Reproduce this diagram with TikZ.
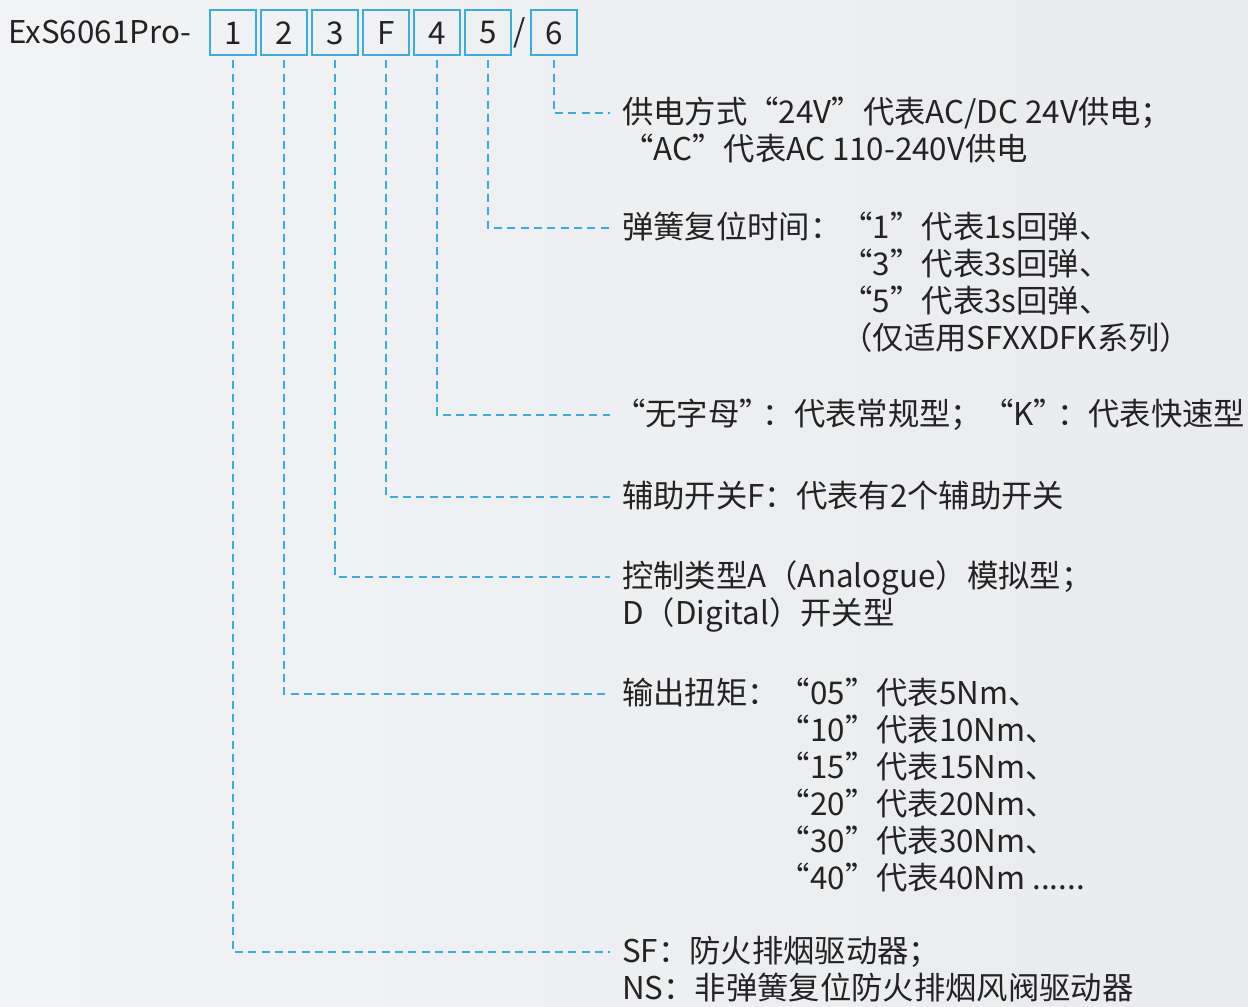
\documentclass[tikz,border=0pt]{standalone}
\usepackage{fontspec}
\setmainfont{Noto Sans CJK SC}
\definecolor{bgl}{RGB}{241,243,245}
\definecolor{bgr}{RGB}{233,235,238}
\definecolor{lblue}{RGB}{58,172,222}
\definecolor{ink}{RGB}{35,35,35}
\tikzset{
  boxn/.style={draw=lblue, line width=1.5pt, minimum width=34.5pt, minimum height=33.75pt, inner sep=0pt, text=ink, font=\fontsize{23.5}{27.75}\selectfont},
  lbl/.style={anchor=base west, inner sep=0pt, align=left, text=ink, font=\fontsize{23.5}{27.75}\selectfont},
  dline/.style={draw=lblue, line width=1.1pt, dash pattern=on 6pt off 4pt}
}
\begin{document}
\begin{tikzpicture}[x=0.75pt,y=-0.75pt]
\useasboundingbox (0,0) rectangle (1248,1006);
\shade[left color=bgl, right color=bgr] (0,0) rectangle (1248,1006);
\node[lbl] (title) at (8,44) {ExS6061Pro-};
\node[boxn] (b1) at (233,33) {1};
\node[boxn] (b2) at (284,33) {2};
\node[boxn] (b3) at (335,33) {3};
\node[boxn] (bF) at (386,33) {F};
\node[boxn] (b4) at (437,33) {4};
\node[boxn] (b5) at (488,33) {5};
\node[lbl, anchor=center] (slash) at (520,33) {/};
\node[boxn] (b6) at (554,33) {6};

% anchors are at the baseline of the LAST line
\node[lbl] (l6) at (622,123+37) {供电方式“24V”代表AC/DC 24V供电；\\“AC”代表AC 110-240V供电};
\node[lbl] (l5) at (622,238+3*37) {弹簧复位时间：“1”代表1s回弹、\\\phantom{弹簧复位时间：}“3”代表3s回弹、\\\phantom{弹簧复位时间：}“5”代表3s回弹、\\\phantom{弹簧复位时间：}（仅适用SFXXDFK系列）};
\node[lbl] (l4) at (614,425) {“无字母”\kern-6pt：代表常规型；“K”\kern-6pt：代表快速型};
\node[lbl] (lF) at (622,507) {辅助开关F：代表有2个辅助开关};
\node[lbl] (l3) at (622,587+37) {控制类型A（Analogue）模拟型；\\D（Digital）开关型};
\node[lbl] (l2) at (622,704+5*37) {输出扭矩：“05”代表5Nm、\\\phantom{输出扭矩：}“10”代表10Nm、\\\phantom{输出扭矩：}“15”代表15Nm、\\\phantom{输出扭矩：}“20”代表20Nm、\\\phantom{输出扭矩：}“30”代表30Nm、\\\phantom{输出扭矩：}“40”代表40Nm ......};
\node[lbl] (l1) at (622,962+37) {SF：防火排烟驱动器；\\NS：非弹簧复位防火排烟风阀驱动器};

\coordinate (e6) at (610,113);
\coordinate (e5) at (610,228);
\coordinate (e4) at (610,415);
\coordinate (eF) at (610,497);
\coordinate (e3) at (610,577);
\coordinate (e2) at (610,694);
\coordinate (e1) at (610,952);

\draw[dline] ([yshift=-3pt]b6.south) |- (e6);
\draw[dline] ([yshift=-3pt]b5.south) |- (e5);
\draw[dline] ([yshift=-3pt]b4.south) |- (e4);
\draw[dline] ([yshift=-3pt]bF.south) |- (eF);
\draw[dline] ([yshift=-3pt]b3.south) |- (e3);
\draw[dline] ([yshift=-3pt]b2.south) |- (e2);
\draw[dline] ([yshift=-3pt]b1.south) |- (e1);
\end{tikzpicture}
\end{document}
